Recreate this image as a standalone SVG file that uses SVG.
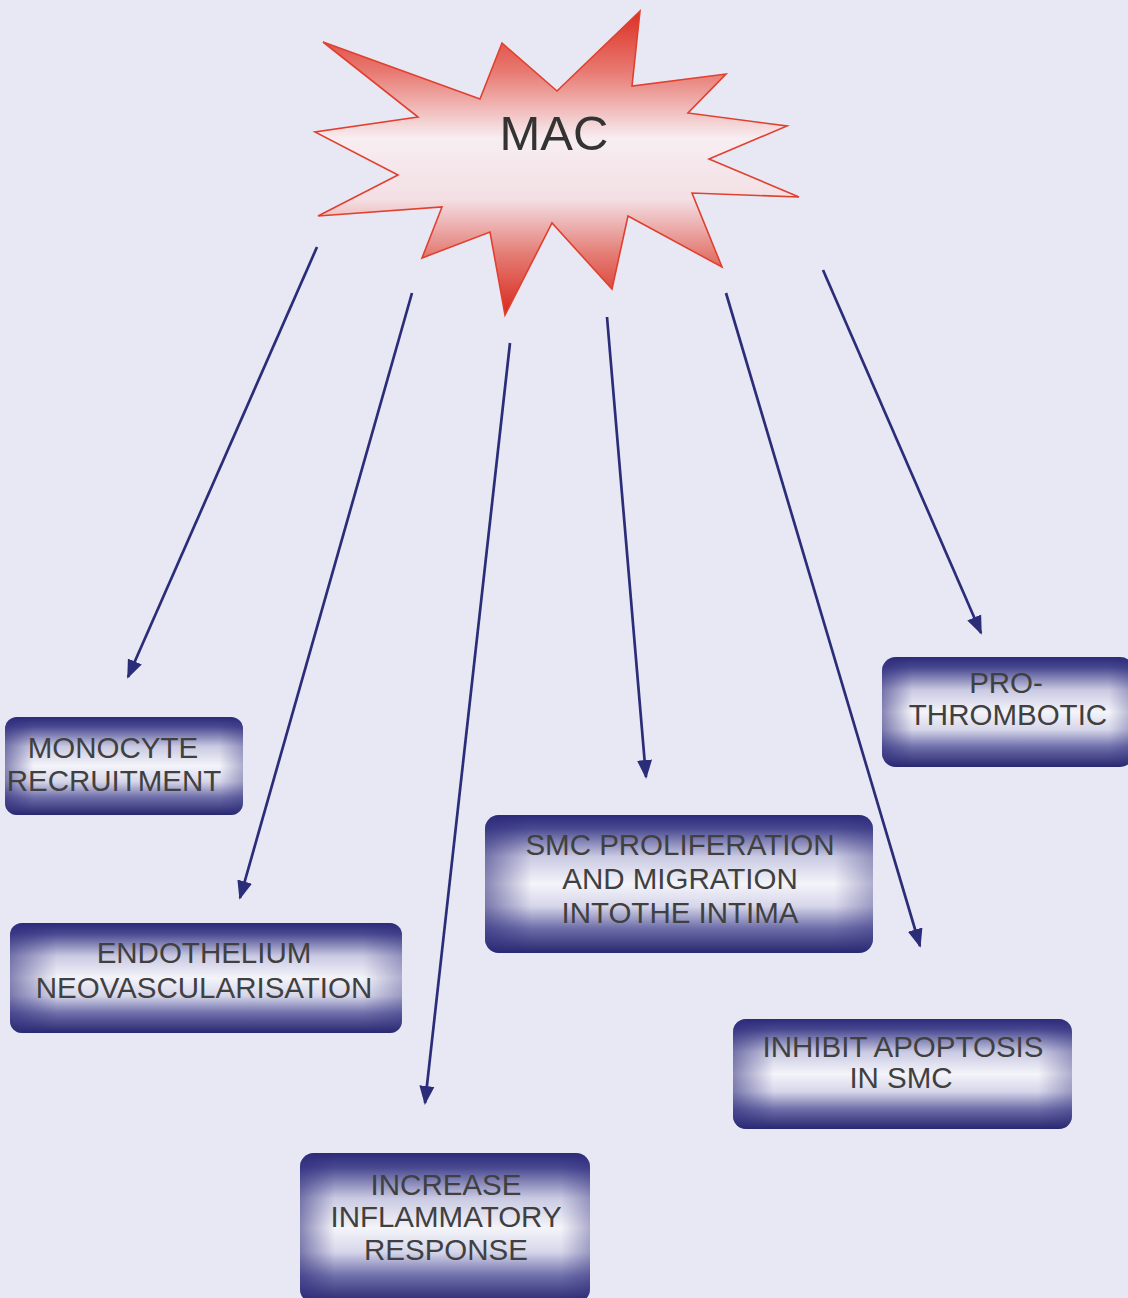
<svg xmlns="http://www.w3.org/2000/svg" width="1128" height="1298" viewBox="0 0 1128 1298">
  <defs>
    <linearGradient id="starGrad" x1="0" y1="0" x2="0" y2="1">
      <stop offset="0" stop-color="#dc2f22"/>
      <stop offset="0.2" stop-color="#e87a72"/>
      <stop offset="0.42" stop-color="#f7eef2"/>
      <stop offset="0.62" stop-color="#f3dfe4"/>
      <stop offset="0.8" stop-color="#e47c74"/>
      <stop offset="1" stop-color="#d8281c"/>
    </linearGradient>
    <linearGradient id="boxV" x1="0" y1="0" x2="0" y2="1">
      <stop offset="0" stop-color="#2c2a7a"/>
      <stop offset="0.1" stop-color="#4a4a92"/>
      <stop offset="0.3" stop-color="#c9c9e2"/>
      <stop offset="0.5" stop-color="#f4f4fa"/>
      <stop offset="0.66" stop-color="#d6d6ea"/>
      <stop offset="0.82" stop-color="#6e6eaa"/>
      <stop offset="1" stop-color="#27276f"/>
    </linearGradient>
    <linearGradient id="boxH" x1="0" y1="0" x2="1" y2="0">
      <stop offset="0" stop-color="#2c2a7a" stop-opacity="0.55"/>
      <stop offset="0.12" stop-color="#2c2a7a" stop-opacity="0"/>
      <stop offset="0.9" stop-color="#2c2a7a" stop-opacity="0"/>
      <stop offset="1" stop-color="#2c2a7a" stop-opacity="0.35"/>
    </linearGradient>
    <marker id="arrow" viewBox="0 0 10 10" refX="9" refY="5" markerWidth="7" markerHeight="7" markerUnits="strokeWidth" orient="auto">
      <path d="M0,1 L10,5 L0,9 Z" fill="#2b2d78"/>
    </marker>
    <style>
      .box { fill: url(#boxV); }
      .shade { fill: url(#boxH); }
      .lbl { font-family: "Liberation Sans", Arial, sans-serif; font-size: 29.5px; fill: #404040; text-anchor: middle; }
      .conn { stroke: #2b2d78; stroke-width: 2.7; fill: none; marker-end: url(#arrow); }
    </style>
  </defs>

  <rect x="0" y="0" width="1128" height="1298" fill="#e8e8f4"/>

  <g id="connectors">
    <line class="conn" x1="317" y1="247" x2="128" y2="677"/>
    <line class="conn" x1="412" y1="293" x2="240" y2="898"/>
    <line class="conn" x1="510" y1="343" x2="425" y2="1103"/>
    <line class="conn" x1="607" y1="317" x2="646" y2="777"/>
    <line class="conn" x1="726" y1="293" x2="920" y2="946"/>
    <line class="conn" x1="823" y1="270" x2="981" y2="633"/>
  </g>

  <g id="mac">
    <polygon points="323,42 480,99 502,43 557,91 640,11 632,86 726,74 688,113 787,126 709,159 799,197 692,193 722,267 628,216 612,289 552,223 505,315 490,232 422,258 442,207 318,216 398,175 315,132 418,117" fill="url(#starGrad)" stroke="#e0402e" stroke-width="1.6" stroke-linejoin="miter"/>
    <text x="554" y="150" font-family="Liberation Sans, Arial, sans-serif" font-size="49" fill="#333" text-anchor="middle">MAC</text>
  </g>

  <g id="monocyte">
    <rect class="box" x="5" y="717" width="238" height="98" rx="12"/>
    <rect class="shade" x="5" y="717" width="238" height="98" rx="12"/>
    <text class="lbl" x="113" y="758">MONOCYTE</text>
    <text class="lbl" x="114" y="791">RECRUITMENT</text>
  </g>

  <g id="endothelium">
    <rect class="box" x="10" y="923" width="392" height="110" rx="12"/>
    <rect class="shade" x="10" y="923" width="392" height="110" rx="12"/>
    <text class="lbl" x="204" y="963">ENDOTHELIUM</text>
    <text class="lbl" x="204" y="998">NEOVASCULARISATION</text>
  </g>

  <g id="smc">
    <rect class="box" x="485" y="815" width="388" height="138" rx="14"/>
    <rect class="shade" x="485" y="815" width="388" height="138" rx="14"/>
    <text class="lbl" x="680" y="855">SMC PROLIFERATION</text>
    <text class="lbl" x="680" y="889">AND MIGRATION</text>
    <text class="lbl" x="680" y="923">INTOTHE INTIMA</text>
  </g>

  <g id="prothrombotic">
    <rect class="box" x="882" y="657" width="252" height="110" rx="14"/>
    <rect class="shade" x="882" y="657" width="252" height="110" rx="14"/>
    <text class="lbl" x="1006" y="693">PRO-</text>
    <text class="lbl" x="1008" y="725">THROMBOTIC</text>
  </g>

  <g id="inhibit">
    <rect class="box" x="733" y="1019" width="339" height="110" rx="13"/>
    <rect class="shade" x="733" y="1019" width="339" height="110" rx="13"/>
    <text class="lbl" x="903" y="1057">INHIBIT APOPTOSIS</text>
    <text class="lbl" x="901" y="1088">IN SMC</text>
  </g>

  <g id="increase">
    <rect class="box" x="300" y="1153" width="290" height="150" rx="14"/>
    <rect class="shade" x="300" y="1153" width="290" height="150" rx="14"/>
    <text class="lbl" x="446" y="1195">INCREASE</text>
    <text class="lbl" x="446" y="1227">INFLAMMATORY</text>
    <text class="lbl" x="446" y="1260">RESPONSE</text>
  </g>
</svg>
